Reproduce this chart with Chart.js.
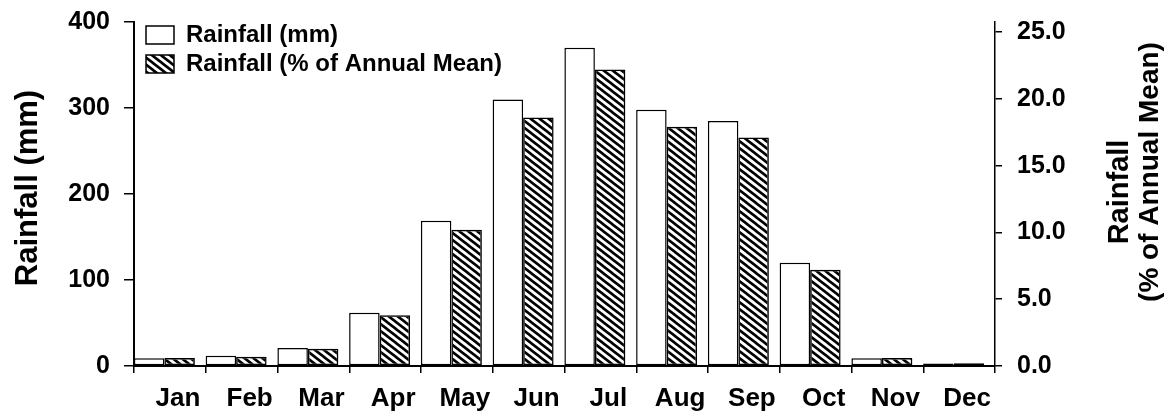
<!DOCTYPE html>
<html>
<head>
<meta charset="utf-8">
<script src="https://cdn.jsdelivr.net/npm/chart.js@4.4.1/dist/chart.umd.min.js"></script>
<style>
  html, body { margin: 0; padding: 0; background: #fff; }
  #wrap { width: 1169px; height: 420px; }
</style>
</head>
<body>
<div id="wrap"><canvas id="graficoChuva" width="1169" height="420"></canvas></div>
<script>
// Monthly rainfall
const months = ["Jan", "Feb", "Mar", "Apr", "May", "Jun", "Jul", "Aug", "Sep", "Oct", "Nov", "Dec"];
const rainMm = [9, 12, 21, 62, 169, 310, 370, 298, 285, 120, 9, 3];
const rainPct = [0.6, 0.7, 1.3, 3.8, 10.2, 18.6, 22.2, 17.9, 17.1, 7.2, 0.6, 0.2];
const ticksMm = [0, 100, 200, 300, 400];
const ticksPct = [0, 5, 10, 15, 20, 25];

const ctx = document.getElementById("graficoChuva").getContext("2d");
const FONT = "'Liberation Sans', Arial, sans-serif";
Chart.defaults.font.family = FONT;
Chart.defaults.color = "#000";

// Diagonal hatching "\\\" for the % bars
function hatch() {
  const w = 9, h = 7;
  const c = document.createElement("canvas");
  c.width = w;
  c.height = h;
  const p = c.getContext("2d");
  p.strokeStyle = "#000";
  p.lineWidth = 2.6;
  p.beginPath();
  [-h, 0, h].forEach(k => {
    p.moveTo(-w, -h + k);
    p.lineTo(2 * w, 2 * h + k);
  });
  p.stroke();
  return ctx.createPattern(c, "repeat");
}

// Nudges: bars sit a little left in each month, legend tucked in the corner
const nudge = {
  id: "nudge",
  afterLayout(chart) {
    const xb = chart.scales.xb;
    xb._startPixel -= 5.5;
    xb._endPixel -= 5.5;
    chart.legend.left += 7;
    chart.legend.top = chart.chartArea.top - 4;
  }
};

// Axis titles (right one reads bottom to top, two lines)
const titles = {
  id: "titles",
  afterDraw(chart) {
    const c = chart.ctx;
    const put = (text, x, y, size) => {
      c.save();
      c.fillStyle = "#000";
      c.font = `bold ${size}px ${FONT}`;
      c.textAlign = "center";
      c.textBaseline = "alphabetic";
      c.translate(x, y);
      c.rotate(-Math.PI / 2);
      c.fillText(text, 0, 0);
      c.restore();
    };
    put("Rainfall (mm)", 37, 188, 31);
    put("Rainfall", 1128, 192, 29);
    put("(% of Annual Mean)", 1158, 172, 28);
  }
};

// no extra room above the plot for the top tick labels
const noPad = s => {
  s.paddingTop = 0;
  s.paddingBottom = 0;
};

new Chart(ctx, {
  type: "bar",
  data: {
    labels: months,
    datasets: [
      {
        label: "Rainfall (mm)",
        data: rainMm,
        xAxisID: "xb",
        yAxisID: "y",
        backgroundColor: "#fff",
        borderColor: "#000",
        borderWidth: 1.5,
        borderSkipped: false
      },
      {
        label: "Rainfall (% of Annual Mean)",
        data: rainPct,
        xAxisID: "xb",
        yAxisID: "y2",
        backgroundColor: hatch(),
        borderColor: "#000",
        borderWidth: 1.5,
        borderSkipped: false
      }
    ]
  },
  options: {
    responsive: false,
    animation: false,
    devicePixelRatio: 1,
    events: [],
    layout: { padding: { top: 22, left: 0, right: 0, bottom: 0 } },
    plugins: {
      tooltip: { enabled: false },
      legend: {
        position: "chartArea",
        align: "start",
        labels: {
          boxWidth: 28,
          boxHeight: 18,
          padding: 5,
          font: { size: 24, weight: "bold" },
          color: "#000"
        }
      }
    },
    datasets: {
      bar: { categoryPercentage: 0.85, barPercentage: 1.0 }
    },
    scales: {
      x: {
        type: "category",
        labels: months,
        offset: true,
        afterFit: s => { s.height = 54; },
        grid: {
          offset: true,
          drawOnChartArea: false,
          drawTicks: true,
          tickLength: 7,
          color: "#000",
          lineWidth: 1.5
        },
        border: { display: true, color: "#000", width: 2 },
        ticks: {
          font: { size: 26, weight: "bold" },
          color: "#000",
          padding: 10,
          labelOffset: 8,
          maxRotation: 0,
          autoSkip: false
        }
      },
      xb: {
        type: "category",
        labels: months,
        display: false,
        offset: true
      },
      y: {
        position: "left",
        min: 0,
        max: 400,
        afterFit: s => { s.width = 134; noPad(s); },
        afterBuildTicks: s => { s.ticks = ticksMm.map(v => ({ value: v })); },
        grid: { drawOnChartArea: false, tickLength: 10, color: "#000", lineWidth: 1.5 },
        border: { display: true, color: "#000", width: 2 },
        ticks: { font: { size: 25, weight: "bold" }, color: "#000", padding: 14 }
      },
      y2: {
        position: "right",
        min: 0,
        max: 25.75,
        afterFit: s => { s.width = 174; noPad(s); },
        afterBuildTicks: s => { s.ticks = ticksPct.map(v => ({ value: v })); },
        grid: { drawOnChartArea: false, tickLength: 7, color: "#000", lineWidth: 1.5 },
        border: { display: true, color: "#000", width: 1.5 },
        ticks: {
          font: { size: 25, weight: "bold" },
          color: "#000",
          padding: 15,
          callback: v => v.toFixed(1)
        }
      }
    }
  },
  plugins: [nudge, titles]
});
</script>
</body>
</html>
